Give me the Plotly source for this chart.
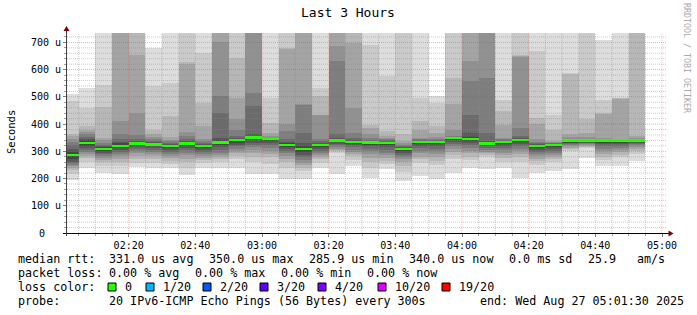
import plotly.graph_objects as go
import pandas as pd

FONT = "DejaVu Sans Mono"
W, H = 697, 315
L, R, T, B = 67, 667, 33, 233          # plot area in pixels

def xp(px):
    return (px - L) / (R - L)

def yp(py):
    return (B - py) / (B - T)

# ---------------- data ----------------
title = "Last 3 Hours"
t_start = pd.Timestamp("2025-08-27 02:01:30")
t_end = pd.Timestamp("2025-08-27 05:01:30")
bin_ends = list(pd.date_range("2025-08-27 02:05:00", "2025-08-27 04:55:00", freq="5min"))
bin_starts = [t_start] + bin_ends[:-1]

# median rtt per 5-minute step (microseconds)
median_us = [285.9, 331, 309, 320, 328, 325, 320, 328, 320, 332, 341, 350, 345, 324,
             309, 323, 339, 335, 333, 330, 308, 335, 334, 349, 345, 329, 334, 342,
             320, 324, 339, 339, 339, 339, 340]

# 20 sorted ping times per step (microseconds)
pings = [
    [196, 215, 230, 240, 245, 250, 258, 262, 270, 282, 290, 298, 310, 325, 335, 345, 355, 365, 483, 511],
    [240, 262, 275, 282, 290, 298, 305, 313, 320, 328, 335, 340, 345, 352, 362, 372, 380, 392, 460, 533],
    [222, 245, 260, 268, 275, 283, 290, 295, 300, 306, 312, 316, 320, 325, 332, 340, 350, 463, 545, 800],
    [215, 245, 262, 272, 282, 290, 298, 305, 312, 317, 323, 329, 336, 345, 365, 411, 750, 770, 790, 800],
    [243, 258, 272, 282, 292, 300, 308, 316, 322, 326, 330, 334, 338, 345, 360, 442, 654, 760, 780, 800],
    [240, 258, 270, 283, 290, 298, 305, 312, 318, 323, 327, 330, 333, 338, 345, 352, 365, 380, 540, 678],
    [240, 255, 265, 275, 282, 290, 297, 305, 312, 318, 321, 324, 327, 332, 337, 343, 352, 430, 551, 800],
    [212, 240, 260, 272, 285, 295, 305, 312, 320, 326, 330, 333, 338, 345, 355, 372, 620, 628, 790, 800],
    [240, 258, 268, 275, 282, 290, 298, 305, 312, 318, 322, 325, 328, 332, 337, 345, 392, 478, 660, 800],
    [240, 260, 272, 280, 288, 295, 305, 315, 322, 330, 336, 342, 350, 441, 502, 703, 760, 770, 790, 800],
    [240, 270, 282, 292, 300, 310, 318, 325, 332, 338, 343, 346, 350, 355, 380, 417, 496, 643, 790, 800],
    [215, 262, 280, 292, 305, 315, 325, 332, 340, 347, 352, 355, 362, 466, 514, 760, 770, 780, 790, 800],
    [215, 255, 278, 290, 302, 312, 322, 330, 338, 343, 345, 346, 347, 348, 350, 355, 368, 405, 496, 800],
    [197, 240, 262, 272, 283, 292, 300, 308, 316, 322, 326, 330, 335, 344, 374, 399, 675, 679, 790, 800],
    [197, 228, 240, 250, 258, 268, 278, 288, 297, 304, 312, 318, 331, 368, 470, 472, 770, 780, 790, 800],
    [240, 258, 270, 280, 288, 295, 302, 310, 316, 321, 325, 328, 332, 338, 345, 432, 435, 502, 533, 800],
    [215, 295, 300, 305, 310, 316, 322, 328, 333, 337, 341, 345, 350, 362, 631, 685, 770, 780, 790, 800],
    [246, 268, 282, 290, 298, 305, 315, 322, 328, 333, 336, 339, 343, 350, 368, 460, 697, 780, 790, 800],
    [203, 240, 260, 275, 290, 300, 310, 318, 325, 331, 334, 335, 338, 343, 350, 362, 385, 398, 692, 800],
    [234, 255, 265, 275, 285, 295, 305, 315, 322, 328, 331, 333, 336, 340, 345, 350, 356, 374, 576, 800],
    [191, 225, 245, 260, 270, 278, 285, 293, 300, 306, 309, 312, 316, 320, 325, 330, 338, 362, 790, 800],
    [210, 258, 270, 280, 292, 302, 312, 320, 328, 333, 335, 336, 338, 341, 345, 350, 380, 411, 496, 800],
    [197, 250, 265, 280, 290, 300, 310, 318, 326, 332, 334, 335, 337, 340, 345, 352, 368, 392, 478, 502],
    [221, 270, 285, 298, 308, 318, 326, 335, 342, 347, 349, 350, 351, 353, 356, 380, 472, 569, 790, 800],
    [240, 268, 280, 292, 302, 312, 322, 330, 338, 343, 347, 352, 368, 435, 557, 631, 770, 780, 790, 800],
    [234, 278, 285, 292, 298, 305, 312, 318, 323, 327, 330, 333, 338, 368, 569, 760, 770, 780, 790, 800],
    [240, 262, 275, 285, 295, 303, 312, 320, 328, 333, 335, 336, 338, 341, 345, 350, 398, 447, 490, 800],
    [203, 262, 278, 290, 300, 310, 320, 328, 335, 340, 343, 345, 348, 355, 386, 645, 650, 655, 790, 800],
    [221, 250, 265, 273, 282, 290, 297, 305, 312, 318, 321, 323, 326, 330, 335, 344, 399, 423, 667, 800],
    [228, 262, 272, 280, 287, 295, 302, 310, 317, 322, 325, 326, 328, 330, 332, 335, 338, 380, 435, 800],
    [234, 302, 308, 313, 318, 322, 326, 330, 334, 337, 339, 340, 341, 343, 346, 352, 362, 585, 588, 800],
    [276, 313, 317, 320, 323, 326, 329, 332, 335, 338, 340, 341, 342, 344, 347, 352, 368, 417, 790, 800],
    [246, 268, 280, 290, 300, 310, 318, 326, 333, 338, 339, 340, 341, 343, 346, 350, 438, 441, 490, 710],
    [246, 278, 288, 296, 305, 312, 320, 328, 334, 338, 339, 340, 340, 341, 342, 344, 492, 494, 496, 800],
    [264, 290, 300, 308, 316, 322, 328, 332, 336, 339, 340, 341, 342, 344, 346, 350, 356, 780, 790, 800],
]

y_ticks = [0, 100, 200, 300, 400, 500, 600, 700]
y_ticktext = ["", "100 u", "200 u", "300 u", "400 u", "500 u", "600 u", "700 u"]
zero_label = "0"
y_max = 734.5

legend_rows = [
    [(16, "median rtt:"), (107, "331.0 us avg"), (207, "350.0 us max"), (307, "285.9 us min"),
     (407, "340.0 us now"), (507, "0.0 ms sd"), (586, "25.9"), (635, "am/s")],
    [(16, "packet loss:"), (107, "0.00 % avg"), (193, "0.00 % max"), (279, "0.00 % min"),
     (365, "0.00 % now")],
    [(16, "loss color:")],
    [(16, "probe:"), (107, "20 IPv6-ICMP Echo Pings (56 Bytes) every 300s"),
     (478, "end: Wed Aug 27 05:01:30 2025")],
]
loss_labels = ["0", "1/20", "2/20", "3/20", "4/20", "10/20", "19/20"]
loss_colors = ["#26ff00", "#00b8ff", "#0059ff", "#5e00ff", "#7e00ff", "#dd00ff", "#ff0000"]
loss_box_x = [108, 146, 203, 260, 318, 378, 442]

# ---------------- figure ----------------
centers = [s + (e - s) / 2 for s, e in zip(bin_starts, bin_ends)]
widths = [(e - s).total_seconds() * 1000 for s, e in zip(bin_starts, bin_ends)]
n_pings = len(pings[0])
half = n_pings // 2

fig = go.Figure()
for i in range(1, half + 1):
    lo = [p[i - 1] for p in pings]
    hi = [p[n_pings - i] for p in pings]
    g = int(190 / half * (half - i)) + 50
    fig.add_trace(go.Bar(
        x=centers, base=lo, y=[h - l for h, l in zip(hi, lo)], width=widths,
        marker=dict(color=f"rgb({g},{g},{g})", line=dict(width=0)),
        hoverinfo="skip", showlegend=False))

MED_H = 9.0  # thickness of the median marker, in axis units
fig.add_trace(go.Bar(
    x=centers, base=[m - MED_H / 2 for m in median_us], y=[MED_H] * len(median_us),
    width=widths, marker=dict(color=loss_colors[0], line=dict(width=0)),
    hoverinfo="skip", showlegend=False))

shapes = []
minor_grid = "rgba(140,140,140,0.45)"
major_grid = "rgba(200,60,60,0.4)"
major_grid_v = "rgba(200,60,60,0.28)"
for v in range(20, int(y_max) + 1, 20):
    shapes.append(dict(type="line", xref="paper", yref="y", x0=0, x1=1, y0=v, y1=v,
                       layer="above",
                       line=dict(color=major_grid if v % 100 == 0 else minor_grid,
                                 width=1, dash="1px,1px")))
for t in pd.date_range("2025-08-27 02:05:00", "2025-08-27 05:00:00", freq="5min"):
    shapes.append(dict(type="line", xref="x", yref="paper", x0=t, x1=t, y0=0, y1=1,
                       layer="above",
                       line=dict(color=major_grid_v if t.minute % 20 == 0 else minor_grid,
                                 width=1, dash="1px,1px")))

# axes lines + arrows
shapes.append(dict(type="line", xref="paper", yref="paper", x0=xp(63), x1=xp(669),
                   y0=yp(233.5), y1=yp(233.5), layer="above", line=dict(color="#000000", width=1)))
shapes.append(dict(type="line", xref="paper", yref="paper", x0=xp(66.5), x1=xp(66.5),
                   y0=yp(236), y1=yp(31), layer="above", line=dict(color="#404040", width=1)))
shapes.append(dict(type="path", xref="paper", yref="paper", layer="above",
                   path=f"M {xp(673.5)},{yp(233.5)} L {xp(668.5)},{yp(230.5)} L {xp(668.5)},{yp(236.5)} Z",
                   fillcolor="#7f0000", line=dict(width=0)))
shapes.append(dict(type="path", xref="paper", yref="paper", layer="above",
                   path=f"M {xp(66.5)},{yp(26)} L {xp(63.5)},{yp(31)} L {xp(69.5)},{yp(31)} Z",
                   fillcolor="#7f0000", line=dict(width=0)))

# loss colour boxes
for bx, c in zip(loss_box_x, loss_colors):
    shapes.append(dict(type="rect", xref="paper", yref="paper",
                       x0=xp(bx), x1=xp(bx + 8), y0=yp(283), y1=yp(291),
                       fillcolor=c, line=dict(color="#000000", width=1)))

annotations = []
annotations.append(dict(text=title, x=xp(348), y=yp(13), xref="paper", yref="paper",
                        showarrow=False, xanchor="center", yanchor="middle",
                        font=dict(family=FONT, size=13, color="#000000")))
annotations.append(dict(text="Seconds", x=xp(11), y=yp(132), xref="paper", yref="paper",
                        showarrow=False, xanchor="center", yanchor="middle", textangle=-90,
                        font=dict(family=FONT, size=10.5, color="#000000")))
annotations.append(dict(text="RRDTOOL / TOBI OETIKER", x=xp(687), y=yp(58), xref="paper",
                        yref="paper", showarrow=False, xanchor="center", yanchor="middle",
                        textangle=90, font=dict(family=FONT, size=8.3, color="#aaaaaa")))
annotations.append(dict(text=zero_label, x=xp(47), y=0, xref="paper", yref="y",
                        showarrow=False, xanchor="right", yanchor="middle",
                        font=dict(family=FONT, size=10, color="#000000")))

row_y = [259, 273.3, 287.3, 301]
for ry, row in zip(row_y, legend_rows):
    for px, txt in row:
        annotations.append(dict(text=txt.replace(" ", "\u00a0"), x=xp(px), y=yp(ry),
                                xref="paper", yref="paper", showarrow=False,
                                xanchor="left", yanchor="middle",
                                font=dict(family=FONT, size=11.7, color="#000000")))
for bx, lab in zip(loss_box_x, loss_labels):
    annotations.append(dict(text=lab, x=xp(bx + 15), y=yp(row_y[2]), xref="paper",
                            yref="paper", showarrow=False, xanchor="left", yanchor="middle",
                            font=dict(family=FONT, size=11.7, color="#000000")))

fig.update_layout(
    width=W, height=H,
    margin=dict(l=L, r=W - R, t=T, b=H - B, pad=0),
    paper_bgcolor="#ffffff", plot_bgcolor="#ffffff",
    barmode="overlay", bargap=0, showlegend=False,
    shapes=shapes, annotations=annotations,
    xaxis=dict(type="date", range=[t_start, t_end], showgrid=False, zeroline=False,
               showline=False, tickformat="%H:%M", tick0="2025-08-27 02:00:00",
               dtick=20 * 60 * 1000, ticks="outside", ticklen=3, tickcolor="#808080",
               tickfont=dict(family=FONT, size=10, color="#000000"),
               minor=dict(dtick=5 * 60 * 1000, ticks="outside", ticklen=2,
                          tickcolor="#a0a0a0", showgrid=False)),
    yaxis=dict(range=[0, y_max], tickvals=y_ticks, ticktext=y_ticktext,
               showgrid=False, zeroline=False, showline=False,
               ticks="outside", ticklen=3, tickcolor="#808080",
               tickfont=dict(family=FONT, size=10, color="#000000"),
               minor=dict(dtick=20, ticks="outside", ticklen=2, tickcolor="#a0a0a0",
                          showgrid=False)),
)

fig.write_html("out.html")
